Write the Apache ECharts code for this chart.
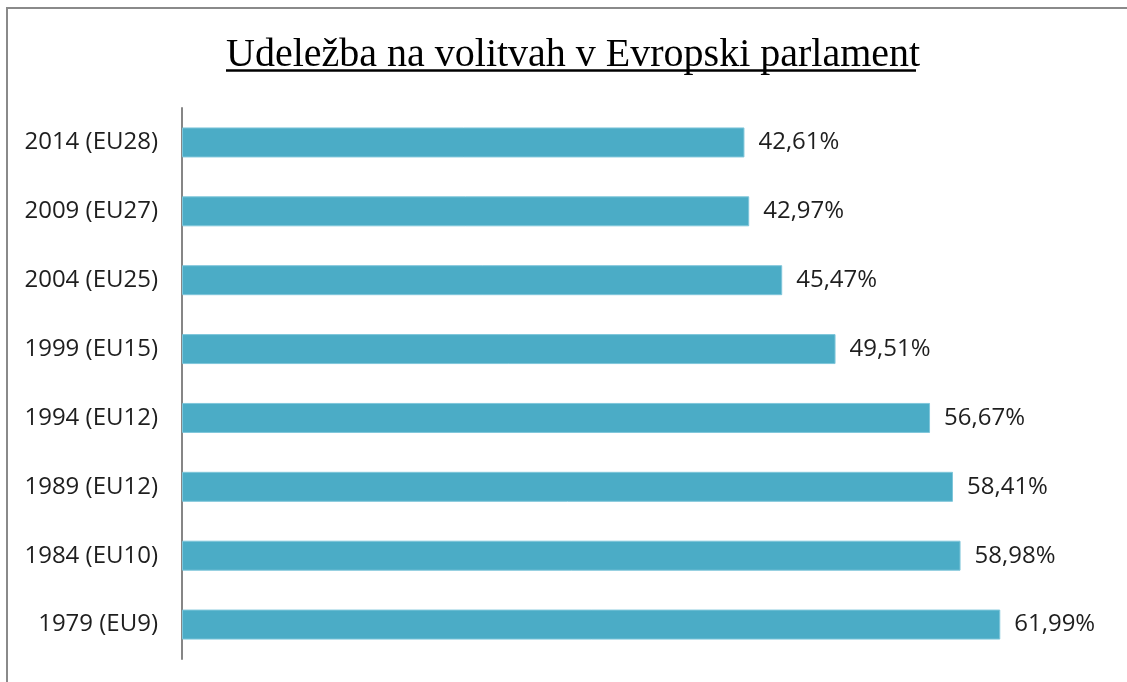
<!DOCTYPE html>
<html>
<head>
<meta charset="utf-8">
<script src="https://cdn.jsdelivr.net/npm/echarts@6/dist/echarts.min.js"></script>
<style>
html,body{margin:0;padding:0;background:#fff;}
#c{width:1127px;height:682px;}
</style>
</head>
<body>
<div id="c"></div>
<script>
const titleText = 'Udeležba na volitvah v Evropski parlament';
const categories = ['1979 (EU9)', '1984 (EU10)', '1989 (EU12)', '1994 (EU12)', '1999 (EU15)', '2004 (EU25)', '2009 (EU27)', '2014 (EU28)'];
const turnout = [61.99, 58.98, 58.41, 56.67, 49.51, 45.47, 42.97, 42.61];

const chart = echarts.init(document.getElementById('c'), null, {renderer: 'canvas'});
chart.setOption({
  animation: false,
  backgroundColor: '#ffffff',
  title: {
    text: titleText,
    left: 221,
    top: 30,
    textStyle: {fontFamily: 'Liberation Serif', fontSize: 40, fontWeight: 'normal', color: '#000'}
  },
  graphic: [
    {type: 'rect', shape: {x: 7, y: 8, width: 1300, height: 900}, style: {fill: 'none', stroke: '#8a8a8a', lineWidth: 2}, silent: true},
    {type: 'line', shape: {x1: 226, y1: 70.5, x2: 916, y2: 70.5}, style: {stroke: '#000', lineWidth: 2.5}, silent: true}
  ],
  grid: {left: 182, right: 21, top: 108, bottom: 23, containLabel: false},
  xAxis: {
    type: 'value', min: 0, max: 70, show: false,
    splitLine: {show: false}
  },
  yAxis: {
    type: 'category',
    data: categories,
    axisLine: {show: true, lineStyle: {color: '#868686', width: 2}},
    axisTick: {show: false},
    axisLabel: {fontFamily: 'Open Sans', fontSize: 24, color: '#1e1e1e', margin: 24}
  },
  series: [{
    type: 'bar',
    data: turnout,
    barWidth: 30,
    itemStyle: {color: '#4BACC6', borderColor: '#7FC6DA', borderWidth: 1},
    label: {
      show: true, position: 'right', distance: 14,
      fontFamily: 'Open Sans', fontSize: 24, color: '#1e1e1e',
      formatter: p => p.value.toFixed(2).replace('.', ',') + '%'
    }
  }]
});
</script>
</body>
</html>
